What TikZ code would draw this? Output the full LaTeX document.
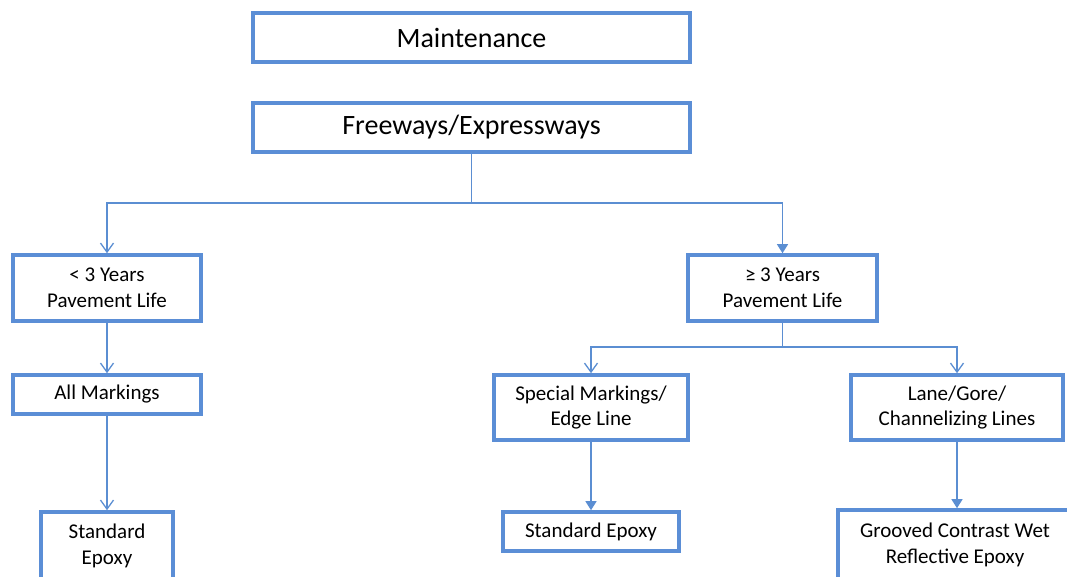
\documentclass[tikz,border=0pt]{standalone}
\usepackage{fontspec}
\setmainfont{Carlito}
\usetikzlibrary{arrows.meta}
\definecolor{boxblue}{HTML}{5B8ED6}
\definecolor{lineblue}{HTML}{5B8ED2}
\tikzset{
  box/.style={draw=boxblue, line width=3.6pt, fill=white, align=center, inner sep=0pt,
    font=\fontsize{21}{25.5}\selectfont, text=black},
  bigbox/.style={box, font=\fontsize{28}{32}\selectfont},
  conn/.style={draw=lineblue, line width=1.3pt},
  openarr/.style={-{Straight Barb[length=9pt,width=13pt,line width=1.3pt]}},
  fillarr/.style={-{Triangle[length=9pt,width=11pt]}}
}
\begin{document}
\begin{tikzpicture}[x=1pt,y=-1pt]
\useasboundingbox (0,0) rectangle (1067,577);
\node[bigbox, minimum width=437pt, minimum height=49pt] (m) at (471.5,37.5) {Maintenance};
\node[bigbox, minimum width=437pt, minimum height=49pt] (fw) at (471.5,127.5) {Freeways/Expressways};
\node[box, minimum width=188pt, minimum height=66pt] (lt) at (107,288) {< 3 Years\\Pavement Life};
\node[box, minimum width=189pt, minimum height=66pt] (ge) at (782.5,288) {≥ 3 Years\\Pavement Life};
\node[box, minimum width=188pt, minimum height=39pt] (am) at (107,394.5) {All Markings};
\node[box, minimum width=194pt, minimum height=65pt] (sm) at (591,407.5) {Special Markings/\\Edge Line};
\node[box, minimum width=212pt, minimum height=65pt] (lg) at (957,407.5) {Lane/Gore/\\Channelizing Lines};
\node[box, minimum width=132pt, minimum height=68pt] (se1) at (107,546) {Standard\\Epoxy};
\node[box, minimum width=176pt, minimum height=39pt] (se2) at (591,531.5) {Standard Epoxy};
\node[box, minimum width=234pt, minimum height=70pt] (gr) at (955,545) {Grooved Contrast Wet\\Reflective Epoxy};
\coordinate (j1) at (471.5,203);
\coordinate (j2) at (782.5,347);
\draw[conn] (fw.south) -- (j1);
\draw[conn,openarr] (j1) -| (lt.north);
\draw[conn,fillarr] (j1) -| (ge.north);
\draw[conn,openarr] (lt.south) -- (am.north);
\draw[conn,openarr] (am.south) -- (se1.north);
\draw[conn] (ge.south) -- (j2);
\draw[conn,openarr] (j2) -| (sm.north);
\draw[conn,openarr] (j2) -| (lg.north);
\draw[conn,fillarr] (sm.south) -- (se2.north);
\draw[conn,fillarr] (lg.south) -- (lg.south |- gr.north);
\end{tikzpicture}
\end{document}
